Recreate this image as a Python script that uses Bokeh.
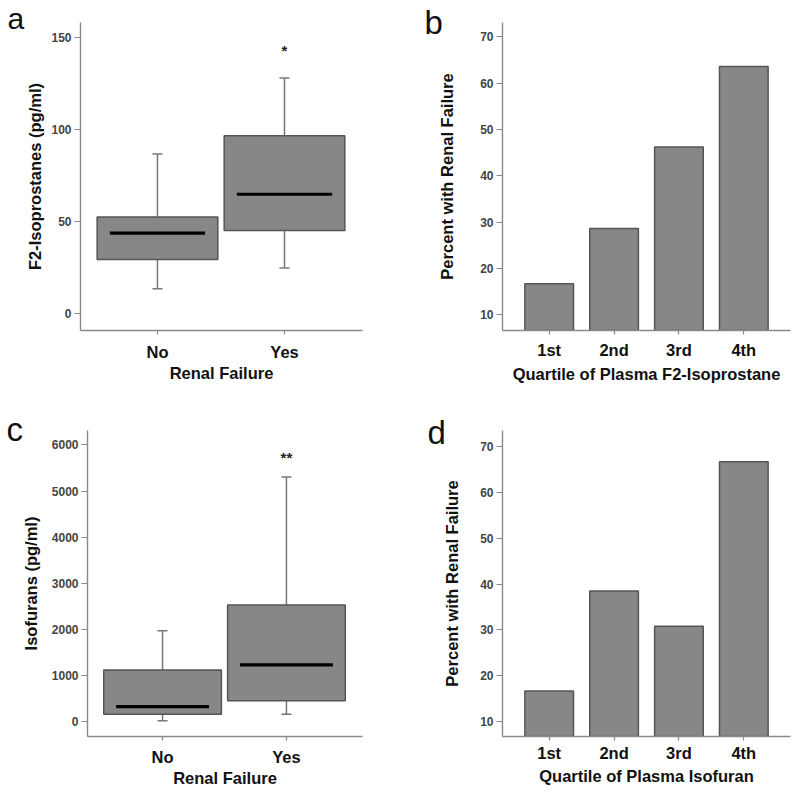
from bokeh.plotting import figure
from bokeh.layouts import column, row
from bokeh.models import Range1d, FixedTicker, Label
from bokeh.embed import file_html
from bokeh.resources import INLINE
from bokeh.core.properties import value

# ---------------- data ----------------
renal_groups = ["No", "Yes"]

f2_lower = [13.5, 24.7]
f2_q1 = [29.3, 45.1]
f2_median = [43.7, 64.8]
f2_q3 = [52.5, 96.6]
f2_upper = [86.7, 128.0]
f2_sig_group = ["Yes"]
f2_sig_text = ["*"]
f2_sig_y = [143.0]

iso_lower = [15, 160]
iso_q1 = [160, 448]
iso_median = [325, 1227]
iso_q3 = [1119, 2526]
iso_upper = [1970, 5303]
iso_sig_group = ["Yes"]
iso_sig_text = ["**"]
iso_sig_y = [5736.0]

quartiles = ["1st", "2nd", "3rd", "4th"]
pct_rf_f2 = [16.7, 28.6, 46.2, 63.6]
pct_rf_iso = [16.7, 38.5, 30.8, 66.7]

f2_ticks = [0, 50, 100, 150]
iso_ticks = [0, 1000, 2000, 3000, 4000, 5000, 6000]
pct_ticks = [10, 20, 30, 40, 50, 60, 70]

FONT = "Liberation Sans"
BOX_FILL = "#878787"
BOX_LINE = "#555555"
AXIS_COL = "#8a8a8a"


def style(p, yticks, xticks, xlabels, xlabel, ylabel, xlab_standoff, xaxis_standoff,
          yaxis_standoff):
    p.outline_line_color = None
    p.xgrid.grid_line_color = None
    p.ygrid.grid_line_color = None
    p.background_fill_color = "white"
    p.border_fill_color = "white"
    for ax in (p.xaxis[0], p.yaxis[0]):
        ax.axis_line_color = AXIS_COL
        ax.axis_line_width = 1.4
        ax.major_tick_line_color = AXIS_COL
        ax.major_tick_line_width = 1.2
        ax.major_tick_in = 0
        ax.minor_tick_line_color = None
        ax.axis_label_text_font = FONT
        ax.axis_label_text_font_style = "bold"
        ax.axis_label_text_font_size = "16.5px"
        ax.axis_label_text_color = "#111111"
        ax.major_label_text_font = FONT
        ax.major_label_text_font_style = "bold"
    y = p.yaxis[0]
    y.ticker = FixedTicker(ticks=yticks)
    y.major_tick_out = 6
    y.major_label_standoff = 3
    y.major_label_text_font_size = "12px"
    y.major_label_text_color = "#444444"
    y.axis_label = ylabel
    y.axis_label_standoff = yaxis_standoff
    x = p.xaxis[0]
    x.ticker = FixedTicker(ticks=xticks)
    x.major_label_overrides = {t: lab for t, lab in zip(xticks, xlabels)}
    x.major_tick_out = 4
    x.major_label_standoff = xlab_standoff
    x.major_label_text_font_size = "16.5px"
    x.major_label_text_color = "#111111"
    x.axis_label = xlabel
    x.axis_label_standoff = xaxis_standoff


def letter(p, txt, x, y, size="33px"):
    # panel letter, placed in the left side panel so it is not clipped to the frame
    p.add_layout(Label(x=x, y=y, x_units="screen", y_units="screen", text=txt,
                       text_font=FONT, text_font_size=size, text_color="#111111",
                       text_baseline="alphabetic", text_align="left"), "left")


def box_panel(w, h, yr, borders, groups, lower, q1, med, q3, upper, sig_group, sig_text,
              sig_y, yticks, ylabel, xlab_standoff, xaxis_standoff, yaxis_standoff):
    pos = [i + 1 for i in range(len(groups))]
    p = figure(width=w, height=h, x_range=Range1d(0.394, 2.614), y_range=Range1d(*yr),
               output_backend="svg", toolbar_location=None,
               min_border_left=borders[0], min_border_top=borders[1],
               min_border_right=borders[2], min_border_bottom=borders[3])
    # whiskers
    p.segment(x0=pos, y0=lower, x1=pos, y1=q1, line_color="#777777", line_width=1.5)
    p.segment(x0=pos, y0=q3, x1=pos, y1=upper, line_color="#777777", line_width=1.5)
    p.scatter(x=pos, y=lower, marker="dash", size=10, line_color="#777777", line_width=1.5)
    p.scatter(x=pos, y=upper, marker="dash", size=10, line_color="#777777", line_width=1.5)
    # boxes
    p.vbar(x=pos, width=0.95, bottom=q1, top=q3, fill_color=BOX_FILL,
           line_color=BOX_LINE, line_width=1.5)
    # medians
    p.segment(x0=[x - 0.375 for x in pos], y0=med, x1=[x + 0.375 for x in pos], y1=med,
              line_color="black", line_width=3.2)
    sx = [pos[groups.index(g)] for g in sig_group]
    p.text(x=sx, y=sig_y, text=sig_text, text_font=value(FONT), text_font_style="bold",
           text_font_size="15px", text_align="center", text_baseline="middle",
           text_color="#222222")
    style(p, yticks, pos, groups, "Renal Failure", ylabel, xlab_standoff, xaxis_standoff,
          yaxis_standoff)
    return p


def bar_panel(w, h, yr, borders, cats, vals, ylabel, xlabel, xlab_standoff, xaxis_standoff,
              yaxis_standoff):
    pos = [i + 1 for i in range(len(cats))]
    p = figure(width=w, height=h, x_range=Range1d(0.28, 4.72), y_range=Range1d(*yr),
               output_backend="svg", toolbar_location=None,
               min_border_left=borders[0], min_border_top=borders[1],
               min_border_right=borders[2], min_border_bottom=borders[3])
    p.vbar(x=pos, width=0.75, bottom=0, top=vals, fill_color=BOX_FILL,
           line_color=BOX_LINE, line_width=1.5)
    style(p, pct_ticks, pos, cats, xlabel, ylabel, xlab_standoff, xaxis_standoff,
          yaxis_standoff)
    return p


pa = box_panel(400, 395, (-9.2, 158.1), (80, 22, 38, 64), renal_groups, f2_lower, f2_q1,
               f2_median, f2_q3, f2_upper, f2_sig_group, f2_sig_text, f2_sig_y,
               f2_ticks, "F2-Isoprostanes (pg/ml)", 8, 0, 4)
letter(pa, "a", 1, 312, "30px")

pb = bar_panel(398, 395, (6.6, 73.1), (102, 22, 8, 65), quartiles, pct_rf_f2,
               "Percent with Renal Failure", "Quartile of Plasma F2-Isoprostane", 6, 3, 21)
letter(pb, "b", 7, 308)

pc = box_panel(400, 398, (-325, 6314), (87, 35, 38, 56), renal_groups, iso_lower, iso_q1,
               iso_median, iso_q3, iso_upper, iso_sig_group, iso_sig_text, iso_sig_y,
               iso_ticks, "Isofurans (pg/ml)", 7, 0, 9)
letter(pc, "c", 5, 307)

pd_ = bar_panel(398, 398, (6.75, 73.5), (102, 33, 8, 57), quartiles, pct_rf_iso,
                "Percent with Renal Failure", "Quartile of Plasma Isofuran", 3, 2, 16)
letter(pd_, "d", 5, 304)

layout = column(row(pa, pb), row(pc, pd_))

open("out.html", "w").write(file_html(layout, INLINE))
